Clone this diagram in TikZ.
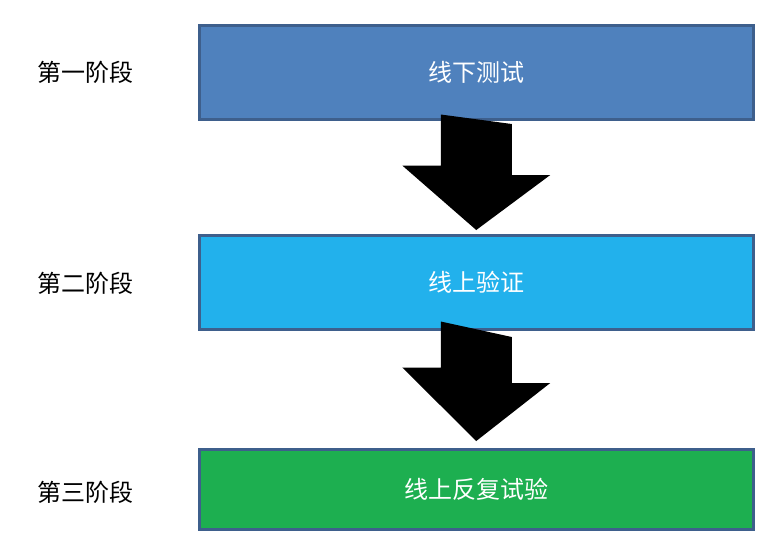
\documentclass[tikz,border=0pt]{standalone}
\usepackage{fontspec}
\newfontfamily\cjk{Noto Sans CJK SC}
\definecolor{stageA}{HTML}{4F81BD}
\definecolor{stageB}{HTML}{22B1EC}
\definecolor{stageC}{HTML}{1DAF50}
\definecolor{rim}{HTML}{3E5F8C}
\begin{document}
\begin{tikzpicture}[x=1pt,y=-1pt]
\tikzset{stagebox/.style={draw=rim,line width=2.5pt,minimum width=554pt,anchor=north west,text=white,font=\cjk\fontsize{24}{28}\selectfont},
  stagelabel/.style={font=\cjk\fontsize{24}{28}\selectfont,text=black}}
\useasboundingbox (0,0) rectangle (760,542);
\node[stagebox,fill=stageA,minimum height=94pt] (b1) at (198,24) {线下测试};
\node[stagebox,fill=stageB,minimum height=94pt] (b2) at (198,234) {线上验证};
\node[stagebox,fill=stageC,minimum height=80pt] (b3) at (198,448) {线上反复试验};
\node[stagelabel] (l1) at (85,72) {第一阶段};
\node[stagelabel] (l2) at (85,283) {第二阶段};
\node[stagelabel] (l3) at (85,492) {第三阶段};
% downward arrows between the stages
\fill[black] ([yshift=6pt]b1.south) ++(-35.5,0) -- ++(0,51) -- ++(-38.5,0) -- ([yshift=4pt]b2.north) -- ++(74,-55) -- ++(-38.5,0) -- ++(0,-51) -- cycle;
\fill[black] ([yshift=9pt]b2.south) ++(-35.5,0) -- ++(0,46) -- ++(-38.5,0) -- ([yshift=7pt]b3.north) -- ++(74,-58) -- ++(-38.5,0) -- ++(0,-46) -- cycle;
\end{tikzpicture}
\end{document}
